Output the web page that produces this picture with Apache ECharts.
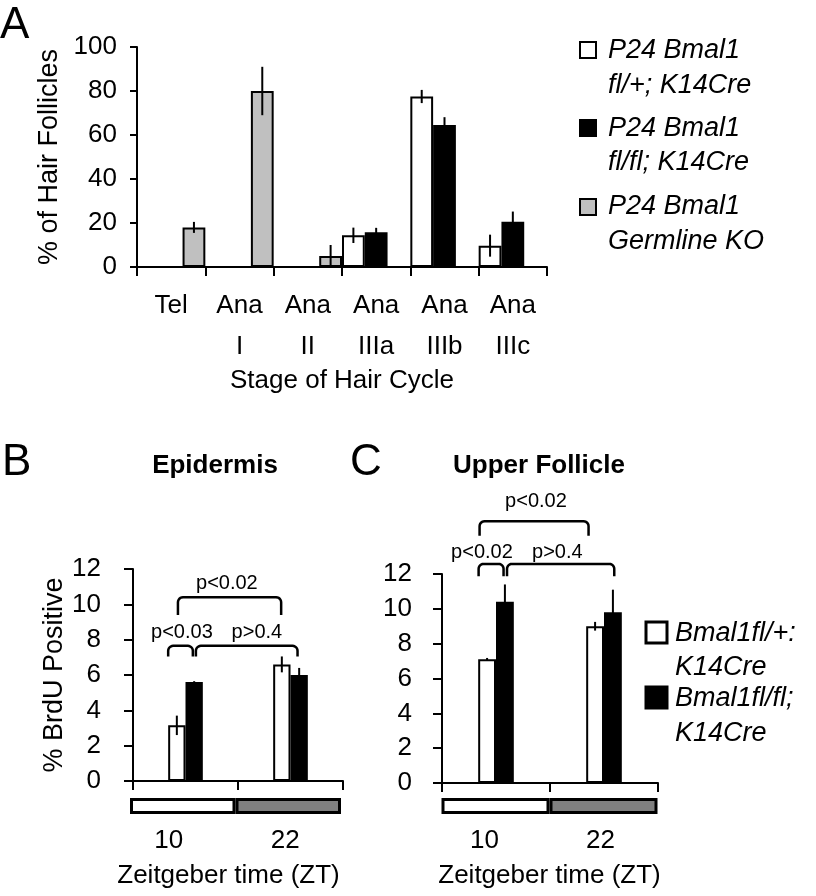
<!DOCTYPE html>
<html><head><meta charset="utf-8">
<script src="https://cdn.jsdelivr.net/npm/echarts@6/dist/echarts.min.js"></script>
<style>html,body{margin:0;padding:0;background:#fff}#c{width:816px;height:896px}</style>
</head><body><div id="c"></div>
<script>
// ---------- Panel A data ----------
const stageLabels = ['Tel', 'Ana\nI', 'Ana\nII', 'Ana\nIIIa', 'Ana\nIIIb', 'Ana\nIIIc'];
const aHetVals = [0, 0, 0, 14.4, 77.5, 9.7];
const aHetErr  = [0, 0, 0, 3.5, 3, 5];
const aKoVals  = [0, 0, 0, 15.8, 64.6, 20.6];
const aKoErr   = [0, 0, 0, 2, 3.5, 4.6];
const aGermVals = [18, 80, 5, 0, 0, 0];
const aGermErr  = [2.5, 11, 5, 0, 0, 0];
const aTicks = [0, 20, 40, 60, 80, 100];

// ---------- Panels B / C data ----------
const ztLabels = ['10', '22'];
const bHetVals = [3.15, 6.6];
const bHetErr  = [0.55, 0.45];
const bKoVals  = [5.6, 6.0];
const bKoErr   = [0.05, 0.4];
const cHetVals = [7.1, 9.0];
const cHetErr  = [0.08, 0.25];
const cKoVals  = [10.4, 9.8];
const cKoErr   = [1.0, 1.3];
const lightDark = [1, 1];
const lightDarkNames = ['Light', 'Dark'];

// significance brackets: positions in category units, heights in data units
const bBrackets = [
  {text: 'p<0.02', x1: -0.072, x2: 0.911, yTop: 10.4, yLeg: 9.4, lx: 0.394, ly: 11.2},
  {text: 'p<0.03', x1: -0.165, x2: 0.07, yTop: 7.65, yLeg: 7.05, lx: -0.034, ly: 8.4},
  {text: 'p>0.4', x1: 0.099, x2: 1.067, yTop: 7.65, yLeg: 7.05, lx: 0.68, ly: 8.4}
];
const cBrackets = [
  {text: 'p<0.02', x1: -0.152, x2: 0.857, yTop: 15.03, yLeg: 14.2, lx: 0.37, ly: 16.15},
  {text: 'p<0.02', x1: -0.161, x2: 0.07, yTop: 12.58, yLeg: 11.87, lx: -0.13, ly: 13.21},
  {text: 'p>0.4', x1: 0.102, x2: 1.095, yTop: 12.58, yLeg: 11.87, lx: 0.568, ly: 13.21}
];

const FF = '"Liberation Sans", Arial, sans-serif';
const BLACK = '#000';

function errSeries(name, vals, errs, gi, offsetFn) {
  return {
    type: 'custom', name: name, xAxisIndex: gi, yAxisIndex: gi, silent: true, z: 5,
    clip: false,
    data: vals.map((v, i) => [i, v, errs[i]]),
    renderItem: function (params, api) {
      const i = api.value(0), v = api.value(1), e = api.value(2);
      if (!e) return null;
      const w = api.size([1, 0])[0];
      const top = api.coord([i, v + e]);
      const bot = api.coord([i, v - e]);
      const x = top[0] + offsetFn(w);
      return {type: 'line', shape: {x1: x, y1: top[1], x2: x, y2: bot[1]},
        style: {stroke: BLACK, lineWidth: 2}};
    }
  };
}

function bracketSeries(list, gi) {
  return {
    type: 'custom', xAxisIndex: gi, yAxisIndex: gi, silent: true, z: 6, clip: false,
    data: list.map(b => [0, b.yLeg]),
    renderItem: function (params, api) {
      const b = list[params.dataIndex];
      const base = api.coord([0, 0])[0];
      const w = api.size([1, 0])[0];
      const px = p => base + p * w;
      const x1 = px(b.x1), x2 = px(b.x2);
      const yT = api.coord([0, b.yTop])[1];
      const yL = api.coord([0, b.yLeg])[1];
      const r = 5;
      const pts = [[x1, yL]];
      for (let k = 0; k <= 6; k++) {
        const a = Math.PI - (Math.PI / 2) * (k / 6);
        pts.push([x1 + r + r * Math.cos(a), yT + r - r * Math.sin(a)]);
      }
      for (let k = 0; k <= 6; k++) {
        const a = Math.PI / 2 - (Math.PI / 2) * (k / 6);
        pts.push([x2 - r + r * Math.cos(a), yT + r - r * Math.sin(a)]);
      }
      pts.push([x2, yL]);
      return {type: 'group', children: [
        {type: 'polyline', shape: {points: pts}, style: {fill: null, stroke: BLACK, lineWidth: 2.5}},
        {type: 'text', style: {text: b.text, x: px(b.lx), y: api.coord([0, b.ly])[1],
          align: 'center', verticalAlign: 'middle', fontSize: 20, fontFamily: FF, fill: BLACK}}
      ]};
    }
  };
}

const axisLineStyle = {show: true, lineStyle: {color: BLACK, width: 2}};
const tickStyle = {show: true, length: 9, lineStyle: {color: BLACK, width: 2}};

function barSeries(name, vals, gi, color, extra) {
  return Object.assign({
    type: 'bar', name: name, xAxisIndex: gi, yAxisIndex: gi, data: vals,
    itemStyle: {color: color, borderColor: BLACK, borderWidth: 2},
    emphasis: {disabled: true}, animation: false
  }, extra || {});
}

function ztAxis(gi, pad0, pad1, namePad) {
  return {gridIndex: gi, type: 'category', data: ztLabels, axisLine: {show: false}, axisTick: {show: false},
    axisLabel: {color: BLACK, fontSize: 26, fontFamily: FF, margin: 14,
      formatter: (v, i) => '{l' + i + '|' + v + '}',
      rich: {l0: {fontSize: 26, fontFamily: FF, color: BLACK, padding: [0, pad0, 0, 0]},
             l1: {fontSize: 26, fontFamily: FF, color: BLACK, padding: [0, pad1, 0, 0]}}},
    name: 'Zeitgeber time (ZT)', nameLocation: 'middle', nameGap: 49,
    nameTextStyle: {fontSize: 26, color: BLACK, fontFamily: FF, padding: [0, namePad, 0, 0]}};
}

const option = {
  animation: false,
  backgroundColor: '#fff',
  textStyle: {fontFamily: FF, color: BLACK},
  grid: [
    {left: 137, top: 47, width: 410, height: 220},
    {left: 133, top: 569, width: 210, height: 212},
    {left: 442, top: 574, width: 216, height: 209},
    {left: 130, top: 798, width: 211, height: 16},
    {left: 441.5, top: 798, width: 216, height: 16}
  ],
  xAxis: [
    {gridIndex: 0, type: 'category', data: stageLabels, axisLine: axisLineStyle, axisTick: tickStyle,
      axisLabel: {color: BLACK, fontSize: 26, fontFamily: FF, lineHeight: 41, margin: 18, interval: 0},
      name: 'Stage of Hair Cycle', nameLocation: 'middle', nameGap: 97,
      nameTextStyle: {fontSize: 26, color: BLACK, fontFamily: FF}},
    {gridIndex: 1, type: 'category', data: ztLabels, axisLine: axisLineStyle, axisTick: tickStyle,
      axisLabel: {show: false}},
    {gridIndex: 2, type: 'category', data: ztLabels, axisLine: axisLineStyle, axisTick: tickStyle,
      axisLabel: {show: false}},
    ztAxis(3, 28, 6, 14),
    ztAxis(4, 22, 6, 0)
  ],
  yAxis: [
    {gridIndex: 0, type: 'value', min: aTicks[0], max: aTicks[aTicks.length - 1], interval: 20,
      splitLine: {show: false}, axisLine: axisLineStyle, axisTick: {show: true, length: 7, lineStyle: {color: BLACK, width: 2}},
      axisLabel: {color: BLACK, fontSize: 26, fontFamily: FF, margin: 20},
      name: '% of Hair Follicles', nameLocation: 'middle', nameGap: 70, nameRotate: 90,
      nameTextStyle: {fontSize: 27, color: BLACK, fontFamily: FF}},
    {gridIndex: 1, type: 'value', min: 0, max: 12, interval: 2,
      splitLine: {show: false}, axisLine: axisLineStyle, axisTick: {show: true, length: 9, lineStyle: {color: BLACK, width: 2}},
      axisLabel: {color: BLACK, fontSize: 26, fontFamily: FF, margin: 32},
      name: '% BrdU Positive', nameLocation: 'middle', nameGap: 62, nameRotate: 90,
      nameTextStyle: {fontSize: 27, color: BLACK, fontFamily: FF}},
    {gridIndex: 2, type: 'value', min: 0, max: 12, interval: 2,
      splitLine: {show: false}, axisLine: axisLineStyle, axisTick: {show: true, length: 9, lineStyle: {color: BLACK, width: 2}},
      axisLabel: {color: BLACK, fontSize: 26, fontFamily: FF, margin: 30}},
    {gridIndex: 3, type: 'value', min: 0, max: 1, show: false},
    {gridIndex: 4, type: 'value', min: 0, max: 1, show: false}
  ],
  series: [
    // Panel A
    barSeries('P24 Bmal1 fl/+; K14Cre', aHetVals, 0, '#ffffff', {barGap: '0%', barCategoryGap: '0%'}),
    barSeries('P24 Bmal1 fl/fl; K14Cre', aKoVals, 0, '#000000', {barGap: '0%', barCategoryGap: '0%'}),
    barSeries('P24 Bmal1 Germline KO', aGermVals, 0, '#c0c0c0', {barGap: '0%', barCategoryGap: '0%'}),
    errSeries('errA1', aHetVals, aHetErr, 0, w => -w / 3),
    errSeries('errA2', aKoVals, aKoErr, 0, w => 0),
    errSeries('errA3', aGermVals, aGermErr, 0, w => w / 3),
    // Panel B
    barSeries('Bmal1fl/+: K14Cre', bHetVals, 1, '#ffffff', {barGap: '0%', barCategoryGap: '67%'}),
    barSeries('Bmal1fl/fl; K14Cre', bKoVals, 1, '#000000', {barGap: '0%', barCategoryGap: '67%'}),
    errSeries('errB1', bHetVals, bHetErr, 1, w => -w * 0.33 / 4),
    errSeries('errB2', bKoVals, bKoErr, 1, w => w * 0.33 / 4),
    bracketSeries(bBrackets, 1),
    // Panel C
    barSeries('Bmal1fl/+: K14Cre ', cHetVals, 2, '#ffffff', {barGap: '0%', barCategoryGap: '67%'}),
    barSeries('Bmal1fl/fl; K14Cre ', cKoVals, 2, '#000000', {barGap: '0%', barCategoryGap: '67%'}),
    errSeries('errC1', cHetVals, cHetErr, 2, w => -w * 0.33 / 4),
    errSeries('errC2', cKoVals, cKoErr, 2, w => w * 0.33 / 4),
    bracketSeries(cBrackets, 2),
    // Light/dark bars
    barSeries('ZT phase B', lightDark.map((v, i) => ({name: lightDarkNames[i], value: v,
      itemStyle: {color: i === 0 ? '#ffffff' : '#808080'}})), 3, '#fff',
      {barCategoryGap: '0%', itemStyle: {borderColor: BLACK, borderWidth: 3}}),
    barSeries('ZT phase C', lightDark.map((v, i) => ({name: lightDarkNames[i], value: v,
      itemStyle: {color: i === 0 ? '#ffffff' : '#808080'}})), 4, '#fff',
      {barCategoryGap: '0%', itemStyle: {borderColor: BLACK, borderWidth: 3}})
  ],
  graphic: [
    // panel letters & titles
    {type: 'text', x: 0, y: 26, style: {text: 'A', fontSize: 44, fontFamily: FF, fill: BLACK, verticalAlign: 'middle'}},
    {type: 'text', x: 2, y: 463, style: {text: 'B', fontSize: 44, fontFamily: FF, fill: BLACK, verticalAlign: 'middle'}},
    {type: 'text', x: 350, y: 463, style: {text: 'C', fontSize: 44, fontFamily: FF, fill: BLACK, verticalAlign: 'middle'}},
    {type: 'text', x: 215, y: 466, style: {text: 'Epidermis', fontSize: 26, fontWeight: 'bold', fontFamily: FF, fill: BLACK, align: 'center', verticalAlign: 'middle'}},
    {type: 'text', x: 539, y: 466, style: {text: 'Upper Follicle', fontSize: 26, fontWeight: 'bold', fontFamily: FF, fill: BLACK, align: 'center', verticalAlign: 'middle'}},
    // legend A
    {type: 'rect', shape: {x: 580, y: 42, width: 16, height: 16}, style: {fill: '#fff', stroke: BLACK, lineWidth: 2}},
    {type: 'rect', shape: {x: 580, y: 120, width: 16, height: 16}, style: {fill: '#000', stroke: BLACK, lineWidth: 2}},
    {type: 'rect', shape: {x: 580, y: 199, width: 16, height: 16}, style: {fill: '#c0c0c0', stroke: BLACK, lineWidth: 2}},
    {type: 'text', x: 608, y: 50, style: {text: 'P24 Bmal1', fontSize: 27, fontStyle: 'italic', fontFamily: FF, fill: BLACK, verticalAlign: 'middle'}},
    {type: 'text', x: 608, y: 85, style: {text: 'fl/+; K14Cre', fontSize: 27, fontStyle: 'italic', fontFamily: FF, fill: BLACK, verticalAlign: 'middle'}},
    {type: 'text', x: 608, y: 128, style: {text: 'P24 Bmal1', fontSize: 27, fontStyle: 'italic', fontFamily: FF, fill: BLACK, verticalAlign: 'middle'}},
    {type: 'text', x: 608, y: 162, style: {text: 'fl/fl; K14Cre', fontSize: 27, fontStyle: 'italic', fontFamily: FF, fill: BLACK, verticalAlign: 'middle'}},
    {type: 'text', x: 608, y: 206, style: {text: 'P24 Bmal1', fontSize: 27, fontStyle: 'italic', fontFamily: FF, fill: BLACK, verticalAlign: 'middle'}},
    {type: 'text', x: 608, y: 241, style: {text: 'Germline KO', fontSize: 27, fontStyle: 'italic', fontFamily: FF, fill: BLACK, verticalAlign: 'middle'}},
    // legend B/C
    {type: 'rect', shape: {x: 646, y: 622, width: 21, height: 21}, style: {fill: '#fff', stroke: BLACK, lineWidth: 3}},
    {type: 'rect', shape: {x: 646, y: 687, width: 21, height: 21}, style: {fill: '#000', stroke: BLACK, lineWidth: 3}},
    {type: 'text', x: 675, y: 633, style: {text: 'Bmal1fl/+:', fontSize: 27, fontStyle: 'italic', fontFamily: FF, fill: BLACK, verticalAlign: 'middle'}},
    {type: 'text', x: 675, y: 667, style: {text: 'K14Cre', fontSize: 27, fontStyle: 'italic', fontFamily: FF, fill: BLACK, verticalAlign: 'middle'}},
    {type: 'text', x: 675, y: 698, style: {text: 'Bmal1fl/fl;', fontSize: 27, fontStyle: 'italic', fontFamily: FF, fill: BLACK, verticalAlign: 'middle'}},
    {type: 'text', x: 675, y: 733, style: {text: 'K14Cre', fontSize: 27, fontStyle: 'italic', fontFamily: FF, fill: BLACK, verticalAlign: 'middle'}}
  ]
};

const chart = echarts.init(document.getElementById('c'), null, {renderer: 'canvas', width: 816, height: 896});
chart.setOption(option);
</script>
</body></html>
